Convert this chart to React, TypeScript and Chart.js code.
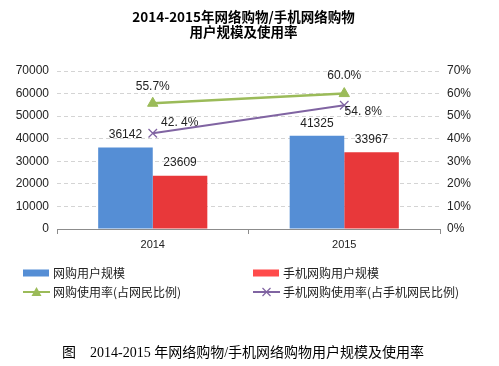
import React, { useEffect, useRef } from "react";
import { Chart, registerables } from "chart.js";

Chart.register(...registerables);

const categories = ["2014", "2015"];
const onlineShoppers = [36142, 41325];
const mobileShoppers = [23609, 33967];
const onlineRate = [55.7, 60.0];
const mobileRate = [42.4, 54.8];
const titleLines = ["2014-2015年网络购物/手机网络购物", "用户规模及使用率"];
const seriesNames = [
  "网购用户规模",
  "手机网购用户规模",
  "网购使用率(占网民比例)",
  "手机网购使用率(占手机网民比例)",
];
const caption = "2014-2015 年网络购物/手机网络购物用户规模及使用率";
const captionPrefix = "图";

const BLUE = "#558ED5";
const RED = "#E8383A";
const GREEN = "#9BBB59";
const PURPLE = "#8064A2";
const SANS = '"Liberation Sans", Arial, "Noto Sans CJK SC", sans-serif';
const CJK = '"Noto Sans CJK SC", "Liberation Sans", sans-serif';

// label offsets for each dataset/point (dx, dy relative to the element)
const labelOffsets: Record<number, [number, number][]> = {
  0: [[0, -13], [0, -12]],
  1: [[0, -13], [0, -13]],
  2: [[0, -17], [0, -18]],
  3: [[27, -11], [19, 6]],
};

const extrasPlugin = {
  id: "extras",
  afterDraw(chart: any) {
    const ctx = chart.ctx;
    ctx.save();
    // title
    ctx.fillStyle = "#000";
    ctx.textAlign = "center";
    ctx.textBaseline = "middle";
    ctx.font = `bold 13.5px ${CJK}`;
    ctx.fillText(titleLines[0], 243.5, 17);
    ctx.fillText(titleLines[1], 243.5, 32);

    // data labels
    ctx.font = `12px ${SANS}`;
    ctx.fillStyle = "#222";
    chart.data.datasets.forEach((ds: any, i: number) => {
      const meta = chart.getDatasetMeta(i);
      meta.data.forEach((el: any, j: number) => {
        const v = ds.data[j];
        let txt: string;
        if (i < 2) txt = String(v);
        else if (i === 2) txt = v.toFixed(1) + "%";
        else txt = v.toFixed(1).replace(".", ". ") + "%";
        const [dx, dy] = labelOffsets[i][j];
        ctx.fillText(txt, el.x + dx, el.y + dy);
      });
    });

    // legend
    ctx.font = `12px ${CJK}`;
    ctx.textAlign = "left";
    const cols = [23, 253];
    const rows = [273, 292];
    chart.data.datasets.forEach((ds: any, i: number) => {
      const x = cols[i % 2];
      const y = rows[Math.floor(i / 2)];
      if (ds.type === "bar") {
        ctx.fillStyle = i === 1 ? "#FF4B4B" : ds.backgroundColor;
        ctx.fillRect(x, y - 3.5, 26, 7);
      } else {
        ctx.strokeStyle = ds.borderColor;
        ctx.lineWidth = 2;
        ctx.beginPath();
        ctx.moveTo(x, y);
        ctx.lineTo(x + 27, y);
        ctx.stroke();
        const cx = x + 13.5;
        if (ds.pointStyle === "triangle") {
          ctx.fillStyle = ds.borderColor;
          ctx.beginPath();
          ctx.moveTo(cx, y - 5);
          ctx.lineTo(cx + 5, y + 4);
          ctx.lineTo(cx - 5, y + 4);
          ctx.closePath();
          ctx.fill();
        } else {
          ctx.lineWidth = 1.2;
          ctx.beginPath();
          ctx.moveTo(cx - 4, y - 4);
          ctx.lineTo(cx + 4, y + 4);
          ctx.moveTo(cx + 4, y - 4);
          ctx.lineTo(cx - 4, y + 4);
          ctx.stroke();
        }
      }
      ctx.fillStyle = "#222";
      ctx.textBaseline = "middle";
      ctx.fillText(seriesNames[i], x + 30, y);
    });

    // caption
    ctx.fillStyle = "#000";
    ctx.font = `14px "Liberation Serif", "Noto Sans CJK SC", serif`;
    ctx.textAlign = "left";
    ctx.fillText(captionPrefix, 62, 353);
    ctx.fillText(caption, 90, 353);
    ctx.restore();
  },
};

export default function App() {
  const ref = useRef<HTMLCanvasElement | null>(null);
  useEffect(() => {
    if (!ref.current) return;
    const chart = new Chart(ref.current, {
      type: "bar",
      data: {
        labels: categories,
        datasets: [
          {
            type: "bar",
            label: seriesNames[0],
            data: onlineShoppers,
            backgroundColor: BLUE,
            yAxisID: "y",
            order: 2,
            categoryPercentage: 0.57,
            barPercentage: 1,
          },
          {
            type: "bar",
            label: seriesNames[1],
            data: mobileShoppers,
            backgroundColor: RED,
            yAxisID: "y",
            order: 2,
            categoryPercentage: 0.57,
            barPercentage: 1,
          },
          {
            type: "line",
            label: seriesNames[2],
            data: onlineRate,
            borderColor: GREEN,
            backgroundColor: GREEN,
            pointStyle: "triangle",
            pointRadius: 6,
            pointBorderWidth: 1,
            borderWidth: 2.5,
            yAxisID: "y1",
            order: 1,
          },
          {
            type: "line",
            label: seriesNames[3],
            data: mobileRate,
            borderColor: PURPLE,
            backgroundColor: PURPLE,
            pointStyle: "crossRot",
            pointRadius: 6,
            pointBorderWidth: 1.3,
            borderWidth: 2,
            yAxisID: "y1",
            order: 1,
          },
        ] as any,
      },
      options: {
        responsive: false,
        animation: false,
        layout: { padding: { top: 71, bottom: 117, left: 0, right: 0 } },
        plugins: {
          legend: { display: false },
          title: { display: false },
          tooltip: { enabled: false },
        },
        scales: {
          x: {
            offset: true,
            grid: {
              display: true,
              offset: true,
              drawOnChartArea: false,
              drawTicks: true,
              tickLength: 5,
              color: "#8c8c8c",
            },
            border: { display: true, color: "#8c8c8c", width: 1 },
            ticks: { font: { size: 11, family: SANS }, color: "#222", padding: 4 },
            afterFit: (s: any) => {
              s.height = 20;
            },
          },
          y: {
            position: "left",
            min: 0,
            max: 70000,
            ticks: {
              stepSize: 10000,
              font: { size: 12, family: SANS },
              color: "#222",
              padding: 8,
              callback: (v: any) => String(v),
            },
            grid: { color: "#d4d4d4", drawTicks: false, lineWidth: 1 },
            border: { display: false, dash: [4, 3] },
            afterFit: (s: any) => {
              s.width = 57;
            },
          },
          y1: {
            position: "right",
            min: 0,
            max: 70,
            ticks: {
              stepSize: 10,
              font: { size: 12, family: SANS },
              color: "#222",
              padding: 7,
              callback: (v: any) => v + "%",
            },
            grid: { display: false, drawTicks: false },
            border: { display: false },
            afterFit: (s: any) => {
              s.width = 59;
            },
          },
        },
      } as any,
      plugins: [extrasPlugin],
    });
    return () => chart.destroy();
  }, []);
  return (
    <div style={{ position: "absolute", left: 0, top: 0, width: 499, height: 366, background: "#fff" }}>
      <canvas ref={ref} width={499} height={366} style={{ width: 499, height: 366, display: "block" }} />
    </div>
  );
}
